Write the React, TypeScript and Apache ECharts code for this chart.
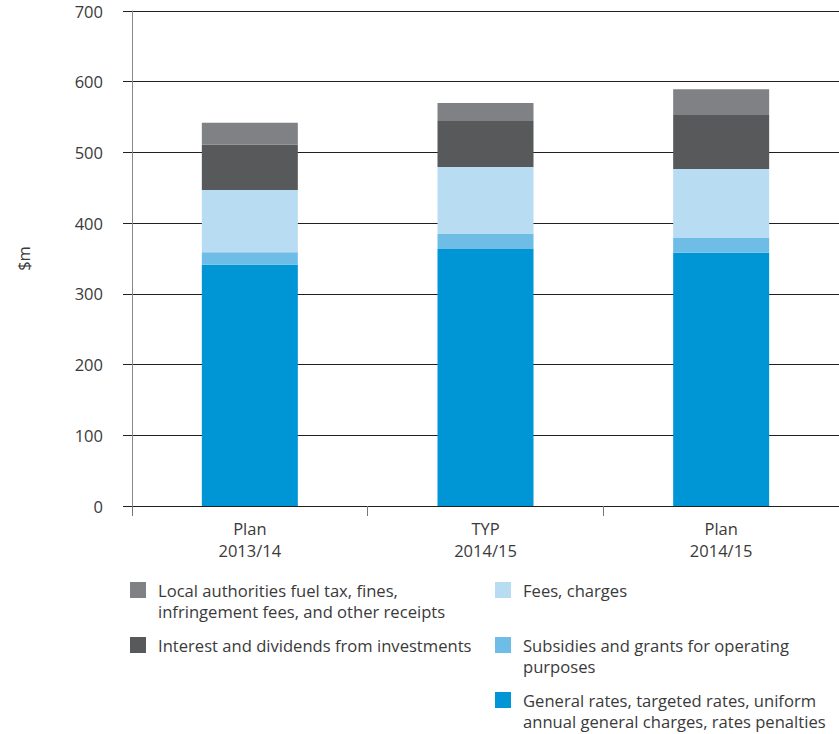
import React, { useEffect, useRef } from "react";
import * as echarts from "echarts";

const categories = ["Plan\n2013/14", "TYP\n2014/15", "Plan\n2014/15"];
const generalRates = [341, 363.5, 358];
const subsidies = [18, 21, 21];
const fees = [88, 95, 97.5];
const interest = [64, 65, 76.5];
const localFuel = [31, 25.5, 36.5];
const yTicks = [0, 700, 100];

const seriesNames = [
  "General rates, targeted rates, uniform\nannual general charges, rates penalties",
  "Subsidies and grants for operating\npurposes",
  "Fees, charges",
  "Interest and dividends from investments",
  "Local authorities fuel tax, fines,\ninfringement fees, and other receipts",
];
const seriesColors = ["#0096d6", "#6dbde6", "#b8dcf2", "#58595b", "#808184"];
const seriesData = [generalRates, subsidies, fees, interest, localFuel];

const FONT = "'Open Sans', 'Noto Sans', sans-serif";
const TEXT = "#3a3a3a";

export default function App() {
  const ref = useRef<HTMLDivElement>(null);
  useEffect(() => {
    if (!ref.current) return;
    const chart = echarts.init(ref.current, undefined, { renderer: "svg" });
    const legendPos = [
      { idx: 4, x: 130, y: 582 },
      { idx: 3, x: 130, y: 637 },
      { idx: 2, x: 495, y: 582 },
      { idx: 1, x: 495, y: 637 },
      { idx: 0, x: 495, y: 692 },
    ];
    const graphics: any[] = [];
    legendPos.forEach((p) => {
      graphics.push({
        type: "rect",
        left: p.x,
        top: p.y,
        shape: { x: 0, y: 0, width: 16, height: 16 },
        style: { fill: seriesColors[p.idx] },
      });
      graphics.push({
        type: "text",
        x: p.x + 28,
        y: p.y - 2,
        style: {
          text: seriesNames[p.idx],
          fill: TEXT,
          font: `16.6px ${FONT}`,
          lineHeight: 21,
          verticalAlign: "top",
          align: "left",
        },
      });
    });
    chart.setOption({
      animation: false,
      backgroundColor: "#ffffff",
      grid: { left: 132, right: 0, top: 11, bottom: 228, containLabel: false },
      xAxis: {
        type: "category",
        data: categories,
        axisLine: { show: true, lineStyle: { color: "#231f20", width: 1 } },
        axisTick: { show: true, length: 10, lineStyle: { color: "#777" } },
        axisLabel: {
          color: TEXT,
          fontFamily: FONT,
          fontSize: 16.5,
          lineHeight: 22,
          margin: 11,
        },
      },
      yAxis: {
        type: "value",
        min: yTicks[0],
        max: yTicks[1],
        interval: yTicks[2],
        name: "$m",
        nameLocation: "middle",
        nameGap: 100,
        nameRotate: 90,
        nameTextStyle: { color: TEXT, fontFamily: FONT, fontSize: 16.5 },
        axisLine: { show: true, lineStyle: { color: "#888", width: 1 } },
        axisTick: { show: true, length: 9, inside: false, lineStyle: { color: "#231f20" } },
        axisLabel: { color: TEXT, fontFamily: FONT, fontSize: 16.5, margin: 29 },
        splitLine: { show: true, lineStyle: { color: "#231f20", width: 1 } },
      },
      series: seriesData.map((d, i) => ({
        name: seriesNames[i],
        type: "bar",
        stack: "total",
        data: d,
        barWidth: 96,
        itemStyle: { color: seriesColors[i] },
      })),
      graphic: graphics,
    });
    return () => chart.dispose();
  }, []);
  return (
    <div
      ref={ref}
      style={{ position: "absolute", left: 0, top: 0, width: 839, height: 734 }}
    />
  );
}
